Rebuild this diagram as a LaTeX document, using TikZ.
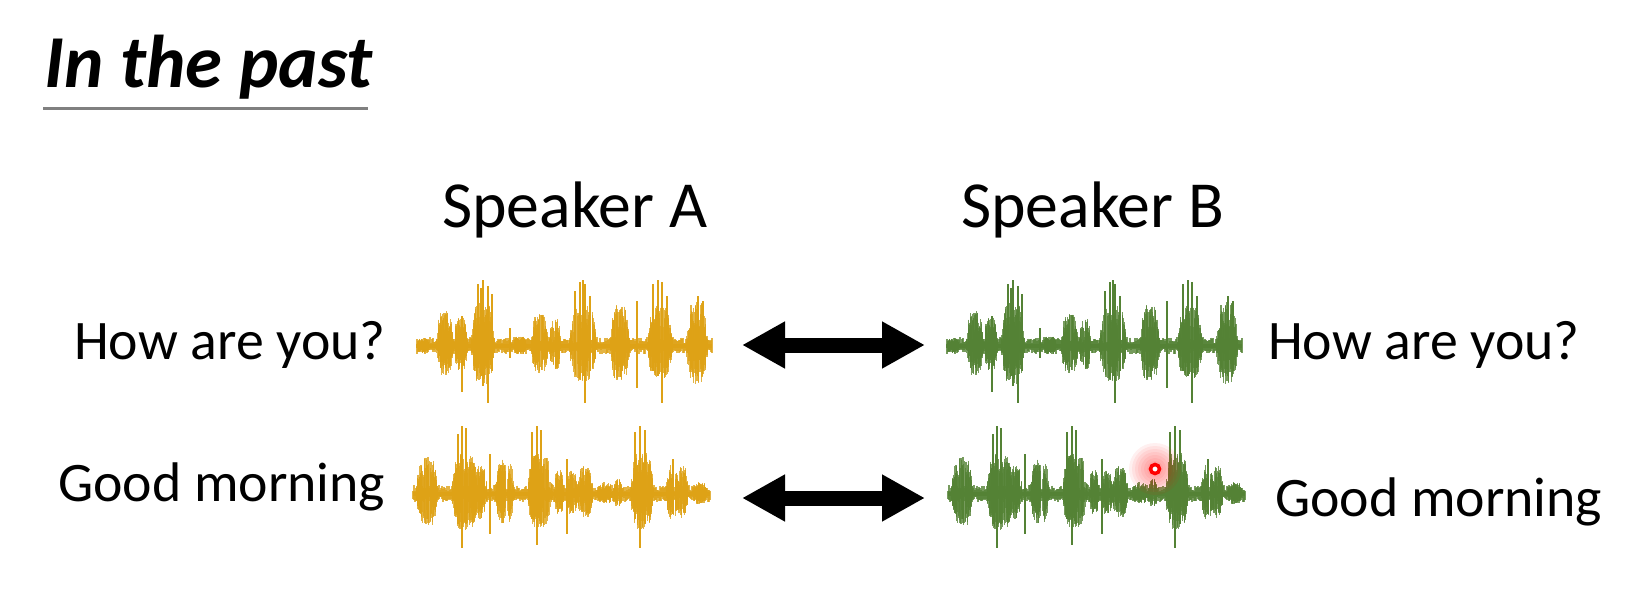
\documentclass[tikz,border=0pt]{standalone}
\usepackage{fontspec}
\setmainfont{Carlito}
\usetikzlibrary{arrows.meta}
\definecolor{wgold}{RGB}{222,162,22}
\definecolor{wgreen}{RGB}{84,130,53}
\definecolor{ulgray}{RGB}{128,128,128}

% #1 bursts (centre/halfwidth/amp), #2 spikes (x/up/down), #3 width
\newcommand\wavebody[3]{%
  \foreach \bx in {0,1,...,#3}{%
    \pgfmathsetmacro\nu{3+6*rnd}%
    \pgfmathsetmacro\nd{3+5*rnd}%
    \draw[wline] (\bx,-\nu) -- (\bx,\nd);
  }%
  \foreach \bc/\bw/\ba in {#1}{%
    \pgfmathtruncatemacro\bn{7*\bw+8}%
    \foreach \bi in {1,...,\bn}{%
      \pgfmathsetmacro\bt{rand}%
      \pgfmathsetmacro\be{\ba*(1-(\bt)*(\bt)*(\bt)*(\bt))}%
      \pgfmathsetmacro\bu{\be*(0.4+0.6*rnd)}%
      \pgfmathsetmacro\bd{\be*(0.3+0.55*rnd)}%
      \pgfmathsetmacro\bxx{\bc+\bw*\bt}%
      \draw[wline] (\bxx,-\bu) -- (\bxx,\bd);
    }%
  }%
  \foreach \sx/\su/\sd in {#2}{%
    \draw[wspike] (\sx,-\su) -- (\sx,\sd);
  }%
  \draw[line width=4bp] (0,0) -- (#3,0);
}
\newcommand\waveone{\pgfmathsetseed{11}\wavebody
  {6/7/8, 28/9/35, 44/7/30, 66/12/45, 103/7/10, 123/9/32, 138/6/28, 166/14/42, 203/10/42, 243/13/40, 280/11/45}
  {45/30/46, 61/62/22, 64/58/30, 66/66/40, 71/60/57, 75/52/25, 93/18/12, 158/55/22, 163/64/30, 166/66/30, 168/62/57, 173/50/25, 220/45/42, 236/62/25, 241/66/30, 245/64/57, 250/50/22, 281/50/30, 286/45/25}
  {295}}
\newcommand\wavetwo{\pgfmathsetseed{23}\wavebody
  {14/11/38, 52/14/42, 68/6/30, 92/10/35, 127/13/40, 146/5/25, 159/6/25, 172/8/28, 192/8/12, 205/5/15, 229/12/42, 259/6/30, 269/6/28, 287/8/12}
  {45/60/30, 49/68/54, 53/66/30, 77/40/40, 119/62/25, 124/68/51, 128/64/30, 154/35/40, 222/62/25, 227/68/54, 232/64/30, 260/35/20}
  {297}}

\begin{document}
\begin{tikzpicture}[x=1bp,y=-1bp,
  wline/.style={line width=1.1bp, opacity=0.8},
  wspike/.style={line width=1.2bp},
  lbl/.style={anchor=base west, inner sep=0pt, text=black},
  dbl/.style={line width=15bp, {Triangle[length=43bp,width=44bp]}-{Triangle[length=43bp,width=44bp]}}]
\useasboundingbox[fill=white] (0,0) rectangle (1650,598);

% title
\node[lbl, font=\fontsize{75}{90}\selectfont\bfseries\itshape] (title) at (44,88) {In the past};
\draw[ulgray, line width=3bp] (43,109) -- (368,109);

% headers
\node[lbl, font=\fontsize{66}{80}\selectfont] (spA) at (442,228) {Speaker A};
\node[lbl, font=\fontsize{66}{80}\selectfont] (spB) at (961,228) {Speaker B};

% row labels
\node[lbl, font=\fontsize{56}{66}\selectfont] (hA) at (74,359) {How are you?};
\node[lbl, font=\fontsize{56}{66}\selectfont] (hB) at (1268,359) {How are you?};
\node[lbl, font=\fontsize{56}{66}\selectfont] (gA) at (58,501) {Good morning};
\node[lbl, font=\fontsize{56}{66}\selectfont] (gB) at (1275,516) {Good morning};

% waveforms
\begin{scope}[shift={(417,346)}, color=wgold]\waveone\end{scope}
\begin{scope}[shift={(947,346)}, color=wgreen]\waveone\end{scope}
\begin{scope}[shift={(413,494)}, color=wgold]\wavetwo\end{scope}
\begin{scope}[shift={(948,494)}, color=wgreen]\wavetwo\end{scope}

% arrows
\coordinate (a1l) at (742,345);
\coordinate (a1r) at (925,345);
\coordinate (a2l) at (742,498);
\coordinate (a2r) at (925,498);
\draw[dbl] (a1l) -- (a1r);
\draw[dbl] (a2l) -- (a2r);

% pointer dot
\coordinate (dot) at (1155,469);
\foreach \r in {26,23,...,5}{\fill[red, opacity=0.06] (dot) circle[radius=\r];}
\draw[red, line width=3.5bp, fill=white] (dot) circle[radius=4.5];
\end{tikzpicture}
\end{document}
